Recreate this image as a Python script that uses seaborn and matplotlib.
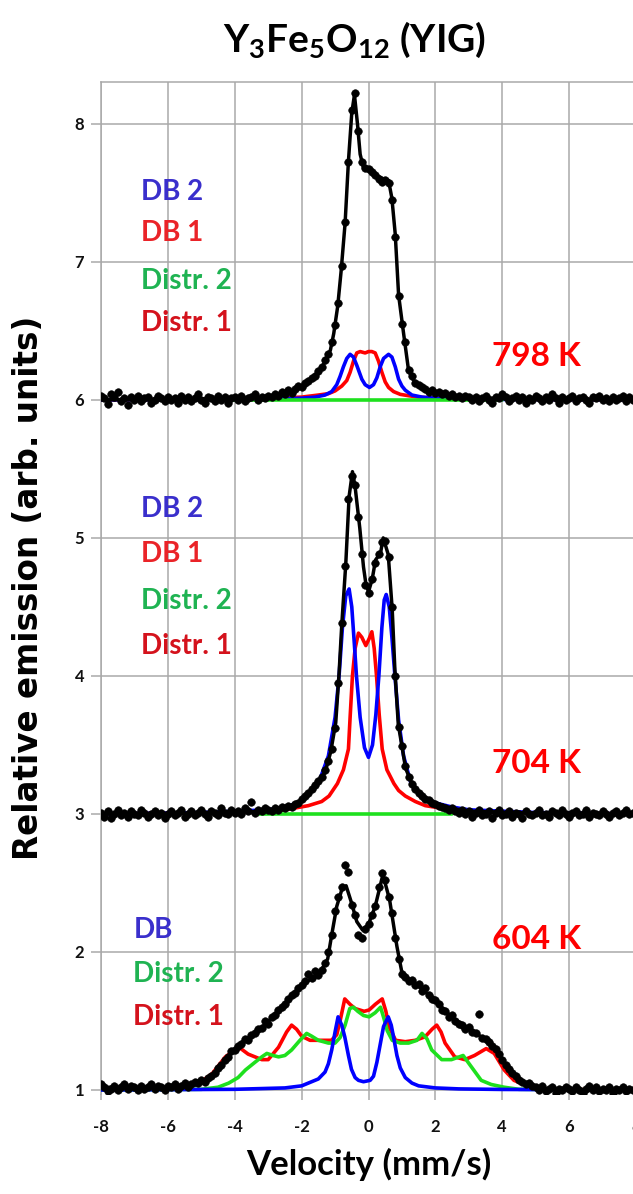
import numpy as np
import pandas as pd
import matplotlib
matplotlib.use("Agg")
import matplotlib.pyplot as plt
import seaborn as sns

# ---------------- data ----------------
vel = np.round(np.linspace(-8, 8, 161), 1)   # channel velocities (mm/s)

# measured points, 798 K (offset baseline 6)
pts_798 = [
    6.03, 6.01, 5.97, 6.04, 6.02, 6.06, 5.99, 6.01, 5.96, 6.02,
    6.00, 6.03, 5.99, 6.01, 6.02, 5.98, 6.00, 6.03, 6.01, 5.99,
    6.02, 6.00, 6.01, 5.98, 6.03, 6.00, 6.02, 5.99, 6.01, 6.04,
    6.00, 5.98, 6.02, 6.01, 5.99, 6.03, 6.00, 6.02, 5.98, 6.01,
    6.02, 6.00, 6.03, 5.99, 6.01, 6.02, 6.04, 6.00, 6.02, 6.01,
    6.03,
    6.02, 6.04, 6.03, 6.06, 6.04, 6.07, 6.05, 6.08, 6.10, 6.09,
    6.12, 6.14, 6.16, 6.17,
    6.21, 6.24, 6.29, 6.33, 6.42, 6.54, 6.70, 6.97, 7.29, 7.72,
    8.10, 8.22, 7.95, 7.72, 7.68, 7.67, 7.65, 7.63, 7.60, 7.58,
    7.59, 7.57, 7.45, 7.18, 6.75, 6.55, 6.42, 6.22, 6.17, 6.12,
    6.11, 6.09, 6.08, 6.06, 6.07, 6.05, 6.06, 6.04, 6.05, 6.03,
    6.04, 6.02, 6.03, 6.01, 6.03, 6.02,
    6.00, 6.02, 5.99, 6.01, 6.03, 6.00, 5.98, 6.02, 6.01, 6.04,
    6.02, 5.99, 6.01, 6.03, 6.00, 6.02, 5.98, 6.01, 6.00, 6.03,
    6.01, 5.99, 6.02, 6.00, 6.04, 6.01, 5.98, 6.02, 6.00, 6.01,
    6.03, 5.99, 6.01, 6.02, 6.00, 5.98, 6.02, 6.01, 6.03, 6.00,
    6.01, 5.99, 6.02, 6.00, 6.01, 6.03, 5.99, 6.02, 6.00, 6.01,
]

# measured points, 704 K (offset baseline 3)
pts_704 = [
    3.01, 2.98, 3.02, 2.97, 3.00, 3.03, 2.99, 3.01, 2.98, 3.02,
    3.00, 2.99, 3.03, 3.01, 2.98, 3.00, 3.02, 2.99, 3.01, 2.97,
    3.00, 3.02, 2.99, 3.01, 3.03, 2.98, 3.00, 3.02, 2.99, 3.01,
    3.03, 3.00, 2.98, 3.02, 3.01, 2.99, 3.04, 3.01, 3.00, 3.03,
    3.01, 3.02, 3.00, 3.04, 3.02, 3.09, 3.01, 3.03, 3.02, 3.04,
    3.03,
    3.02, 3.04, 3.03, 3.05, 3.04, 3.06, 3.05, 3.07, 3.08, 3.11,
    3.13, 3.15, 3.18, 3.21,
    3.24, 3.27, 3.32, 3.38, 3.47, 3.62, 3.95, 4.38, 4.80, 5.28,
    5.45, 5.38, 5.15, 4.88, 4.66, 4.60, 4.70, 4.82, 4.88, 4.97,
    4.98, 4.86, 4.50, 4.00, 3.63, 3.49, 3.35, 3.27, 3.22, 3.18,
    3.15, 3.13, 3.11, 3.10, 3.08, 3.07, 3.06, 3.05, 3.04, 3.03,
    3.04, 3.02, 3.01, 3.03, 3.00, 3.02,
    2.98, 3.01, 3.03, 2.99, 3.00, 3.02, 2.97, 3.01, 3.03, 2.99,
    3.00, 3.02, 2.98, 3.01, 3.00, 2.97, 3.02, 3.00, 2.99, 3.01,
    3.03, 2.99, 3.00, 2.98, 3.02, 3.01, 2.99, 3.03, 3.00, 2.98,
    3.01, 3.02, 2.99, 3.00, 3.03, 2.98, 3.01, 3.00, 2.99, 3.02,
    3.00, 2.98, 3.01, 3.02, 2.99, 3.01, 3.03, 3.00, 3.01, 3.02,
]

# measured points, 604 K (offset baseline 1)
pts_604 = [
    1.04, 1.02, 0.99, 1.01, 1.03, 1.00, 1.02, 1.04, 1.01, 1.03,
    1.02, 1.00, 1.03, 1.01, 1.02, 1.04, 1.01, 1.03, 1.02, 1.00,
    1.03, 1.02, 1.04, 1.01, 1.03, 1.05, 1.02, 1.04, 1.06, 1.05,
    1.07,
    1.06, 1.09, 1.10, 1.12, 1.16, 1.18, 1.22, 1.24, 1.28, 1.29,
    1.32, 1.33, 1.37, 1.36, 1.40, 1.41, 1.44, 1.45, 1.50, 1.48,
    1.53, 1.54, 1.58, 1.60, 1.62, 1.66, 1.69, 1.70, 1.74, 1.76,
    1.79, 1.84, 1.81, 1.86, 1.83, 1.87, 1.92, 2.00, 2.12, 2.30,
    2.40, 2.47, 2.63, 2.58, 2.34, 2.27, 2.12, 2.10, 2.17, 2.20,
    2.27, 2.33, 2.47, 2.57, 2.52, 2.40, 2.28, 2.10, 1.95, 1.84,
    1.82, 1.79, 1.80, 1.76, 1.77, 1.72, 1.74, 1.69, 1.66, 1.65,
    1.62, 1.58, 1.57, 1.53, 1.54, 1.50, 1.48, 1.47, 1.44, 1.46,
    1.42, 1.41, 1.55, 1.38, 1.37, 1.35, 1.32, 1.30, 1.26, 1.22,
    1.18, 1.15, 1.12, 1.10, 1.07, 1.06, 1.04, 1.05, 1.03,
    1.02, 1.00, 1.03, 0.99, 1.01, 1.02, 0.98, 1.01, 1.00, 1.02,
    1.01, 0.99, 1.02, 1.00, 0.98, 1.01, 1.03, 1.00, 1.02, 0.99,
    1.01, 1.00, 1.02, 0.98, 1.01, 1.00, 1.02, 0.99, 1.01, 1.00,
    1.01,
]
assert len(pts_798) == len(vel) and len(pts_704) == len(vel) and len(pts_604) == len(vel)

# ---- fitted curves, 798 K ----
fit798_v = [-8, -6, -4, -3, -2.5, -2, -1.6, -1.4, -1.14, -1.04, -0.92, -0.82, -0.7, -0.6,
            -0.5, -0.42, -0.33, -0.25, -0.15, 0, 0.15, 0.3, 0.45, 0.6, 0.7, 0.8, 0.9, 1.05,
            1.2, 1.4, 1.6, 2.0, 2.5, 3, 4, 6, 8]
fit798_y = [6.0, 6.005, 6.01, 6.02, 6.04, 6.09, 6.16, 6.23, 6.36, 6.48, 6.68, 6.93, 7.28, 7.73,
            8.08, 8.21, 8.0, 7.78, 7.68, 7.66, 7.64, 7.62, 7.6, 7.59, 7.46, 7.2, 6.76, 6.48,
            6.21, 6.12, 6.09, 6.05, 6.03, 6.02, 6.01, 6.005, 6.0]
db2_798_v = [-8, -4, -3, -2, -1.6, -1.3, -1.1, -0.95, -0.85, -0.75, -0.65, -0.55, -0.45, -0.35,
             -0.2, -0.1, 0.03, 0.15, 0.25, 0.35, 0.45, 0.6, 0.7, 0.8, 0.9, 1.0, 1.1, 1.3, 1.6,
             2, 3, 4, 8]
db2_798_y = [6.0, 6.003, 6.006, 6.012, 6.02, 6.035, 6.06, 6.11, 6.17, 6.24, 6.3, 6.33, 6.31, 6.25,
             6.15, 6.11, 6.09, 6.11, 6.16, 6.24, 6.3, 6.33, 6.31, 6.24, 6.15, 6.1, 6.07, 6.035, 6.02,
             6.012, 6.006, 6.003, 6.0]
db1_798_v = [-8, -4, -3, -2, -1.5, -1.2, -1.0, -0.8, -0.65, -0.55, -0.45, -0.35, -0.25, -0.1, 0.0,
             0.1, 0.2, 0.3, 0.4, 0.5, 0.6, 0.75, 0.95, 1.2, 1.5, 2, 3, 4, 8]
db1_798_y = [6.0, 6.005, 6.01, 6.02, 6.035, 6.045, 6.065, 6.1, 6.14, 6.2, 6.28, 6.34, 6.35, 6.34, 6.35,
             6.35, 6.34, 6.28, 6.2, 6.13, 6.09, 6.06, 6.04, 6.03, 6.02, 6.012, 6.008, 6.005, 6.0]
d2_798_v = [-4.2, 4.0]
d2_798_y = [6.0, 6.0]

# ---- fitted curves, 704 K ----
fit704_v = [-8, -5, -3, -2.5, -2.0, -1.6, -1.3, -1.13, -0.98, -0.88, -0.8, -0.68, -0.58, -0.48,
            -0.4, -0.26, -0.15, -0.08, 0.0, 0.11, 0.21, 0.36, 0.44, 0.59, 0.71, 0.79, 0.89, 1.0,
            1.11, 1.3, 1.6, 2.0, 2.5, 3, 5, 8]
fit704_y = [3.0, 3.005, 3.02, 3.04, 3.1, 3.2, 3.3, 3.45, 3.66, 4.02, 4.37, 4.81, 5.3, 5.48,
            5.37, 5.07, 4.79, 4.67, 4.61, 4.70, 4.84, 4.89, 5.0, 4.88, 4.48, 4.04, 3.65, 3.49,
            3.33, 3.22, 3.13, 3.08, 3.04, 3.02, 3.005, 3.0]
db2_704_v = [-8, -5, -3, -2.5, -2.0, -1.5, -1.2, -1.0, -0.88, -0.78, -0.68, -0.58, -0.5, -0.42,
             -0.36, -0.25, -0.12, 0.0, 0.12, 0.22, 0.31, 0.4, 0.47, 0.53, 0.62, 0.7, 0.79, 0.9,
             1.05, 1.26, 1.6, 2.0, 2.5, 3, 5, 8]
db2_704_y = [3.0, 3.01, 3.03, 3.05, 3.09, 3.22, 3.42, 3.7, 4.0, 4.35, 4.58, 4.63, 4.5, 4.22,
             4.0, 3.7, 3.48, 3.41, 3.5, 3.72, 4.0, 4.35, 4.55, 4.59, 4.5, 4.28, 4.0, 3.68,
             3.42, 3.23, 3.13, 3.08, 3.05, 3.03, 3.01, 3.0]
db1_704_v = [-8, -4, -2.5, -1.8, -1.4, -1.18, -0.93, -0.75, -0.6, -0.55, -0.48, -0.4, -0.3, -0.2,
             -0.08, 0.02, 0.1, 0.17, 0.24, 0.32, 0.41, 0.55, 0.76, 0.9, 1.1, 1.4, 1.7, 2.5, 4, 8]
db1_704_y = [3.0, 3.01, 3.03, 3.06, 3.09, 3.13, 3.22, 3.32, 3.47, 3.7, 4.0, 4.2, 4.31, 4.28,
             4.22, 4.27, 4.32, 4.2, 4.0, 3.72, 3.47, 3.32, 3.22, 3.17, 3.13, 3.09, 3.06, 3.03, 3.01, 3.0]
d2_704_v = [-3.3, 2.5]
d2_704_y = [3.0, 3.0]

# ---- fitted curves, 604 K ----
fit604_v = [-8, -6, -5.6, -5.08, -4.75, -4.42, -4.1, -3.77, -3.34, -2.9, -2.47, -2.14, -1.82, -1.5,
            -1.22, -1.11, -0.95, -0.8, -0.67, -0.5, -0.35, -0.18, 0.0, 0.2, 0.43, 0.63, 0.74, 0.85,
            1.0, 1.23, 1.66, 2.1, 2.53, 2.97, 3.4, 3.73, 3.95, 4.27, 4.7, 5.14, 6, 8]
fit604_y = [1.02, 1.02, 1.02, 1.04, 1.08, 1.17, 1.27, 1.35, 1.42, 1.52, 1.63, 1.72, 1.79, 1.83,
            1.95, 2.11, 2.33, 2.45, 2.48, 2.35, 2.22, 2.16, 2.2, 2.33, 2.56, 2.38, 2.21, 2.04,
            1.85, 1.80, 1.72, 1.62, 1.52, 1.45, 1.38, 1.31, 1.24, 1.12, 1.05, 1.01, 1.0, 1.0]
d1_604_v = [-8, -5.6, -5.0, -4.67, -4.28, -4.0, -3.82, -3.6, -3.19, -3.0, -2.69, -2.45, -2.3, -2.15,
            -2.0, -1.75, -1.5, -1.11, -0.95, -0.85, -0.71, -0.55, -0.4, -0.13, 0.02, 0.2, 0.41,
            0.52, 0.61, 0.81, 1.1, 1.4, 1.69, 1.9, 2.04, 2.17, 2.29, 2.58, 2.88, 3.17, 3.52, 3.76,
            4.06, 4.35, 4.85, 5.5, 8]
d1_604_y = [1.0, 1.02, 1.06, 1.12, 1.24, 1.29, 1.30, 1.26, 1.22, 1.22, 1.31, 1.42, 1.47, 1.44,
            1.39, 1.36, 1.36, 1.36, 1.40, 1.50, 1.66, 1.62, 1.59, 1.57, 1.58, 1.62, 1.66,
            1.57, 1.46, 1.36, 1.35, 1.36, 1.385, 1.44, 1.47, 1.42, 1.34, 1.24, 1.22, 1.25, 1.30, 1.265,
            1.145, 1.07, 1.02, 1.005, 1.0]
d2_604_v = [-8, -5, -4.5, -4.18, -3.9, -3.68, -3.4, -3.19, -3.04, -2.85, -2.69, -2.5, -2.3, -2.05,
            -1.85, -1.7, -1.5, -1.2, -1.0, -0.85, -0.7, -0.56, -0.45, -0.32, -0.15, 0.02, 0.2, 0.36,
            0.46, 0.56, 0.71, 0.95, 1.2, 1.45, 1.6, 1.75, 1.89, 2.19, 2.48, 2.83, 3.07, 3.37, 3.67,
            4.06, 4.5, 8]
d2_604_y = [1.0, 1.005, 1.02, 1.05, 1.09, 1.145, 1.2, 1.24, 1.265, 1.25, 1.24, 1.25, 1.29, 1.36,
            1.41, 1.39, 1.36, 1.34, 1.34, 1.38, 1.47, 1.59, 1.60, 1.57, 1.54, 1.53, 1.56, 1.60,
            1.52, 1.43, 1.36, 1.34, 1.34, 1.36, 1.41, 1.37, 1.29, 1.22, 1.22, 1.25, 1.17, 1.07, 1.04,
            1.02, 1.005, 1.0]
db_604_v = [-8, -4, -2.5, -2.0, -1.5, -1.3, -1.2, -1.1, -1.0, -0.91, -0.8, -0.71, -0.6, -0.51, -0.4,
            -0.3, -0.15, -0.05, 0.05, 0.15, 0.25, 0.35, 0.45, 0.59, 0.68, 0.76, 0.85, 0.95, 1.1,
            1.3, 1.5, 2.0, 2.7, 4, 8]
db_604_y = [1.0, 1.005, 1.015, 1.03, 1.08, 1.13, 1.19, 1.29, 1.42, 1.53, 1.47, 1.385, 1.25, 1.15,
            1.09, 1.07, 1.06, 1.065, 1.07, 1.1, 1.2, 1.33, 1.46, 1.53, 1.47, 1.37, 1.25, 1.16, 1.09,
            1.05, 1.03, 1.015, 1.008, 1.004, 1.0]

temps = ["798 K", "704 K", "604 K"]
labels_798 = ["DB 2", "DB 1", "Distr. 2", "Distr. 1"]
labels_704 = ["DB 2", "DB 1", "Distr. 2", "Distr. 1"]
labels_604 = ["DB", "Distr. 2", "Distr. 1"]
x_ticks = [-8, -6, -4, -2, 0, 2, 4, 6, 8]
y_ticks = [1, 2, 3, 4, 5, 6, 7, 8]

# ---------------- styling ----------------
sns.set_theme(style="white")
plt.rcParams["font.family"] = ["Lato", "DejaVu Sans"]
plt.rcParams["mathtext.fontset"] = "custom"
plt.rcParams["mathtext.rm"] = "Lato"
plt.rcParams["mathtext.bf"] = "Lato:bold"
plt.rcParams["mathtext.it"] = "Lato:italic"

C_BLUE, C_RED, C_GREEN = "#0000ff", "#ff0000", "#1ee01e"
T_BLUE, T_RED1, T_GREEN, T_RED2 = "#3a2fcc", "#ea2328", "#1fb352", "#d4121c"
GRID = "#a9a9a9"

fig = plt.figure(figsize=(6.33, 11.94), dpi=100)
ax = fig.add_axes([101 / 633, 100 / 1194, 535 / 633, 1012 / 1194])

LW = 2.6


def line(v, y, color, z, lw=LW):
    df = pd.DataFrame({"v": v, "y": y})
    sns.lineplot(data=df, x="v", y="y", color=color, lw=lw, ax=ax, zorder=z,
                 estimator=None, sort=False, legend=False)


def points(y):
    df = pd.DataFrame({"v": vel, "y": y})
    sns.scatterplot(data=df, x="v", y="y", color="black", s=30, edgecolor="black",
                    linewidth=0.4, ax=ax, zorder=10, legend=False)


# 798 K
line(db1_798_v, db1_798_y, C_RED, 3)
line(db2_798_v, db2_798_y, C_BLUE, 4)
line(d2_798_v, d2_798_y, C_GREEN, 5)
points(pts_798)
line(fit798_v, fit798_y, "black", 11, lw=2.5)

# 704 K
line(db1_704_v, db1_704_y, C_RED, 3)
line(db2_704_v, db2_704_y, C_BLUE, 4)
line(d2_704_v, d2_704_y, C_GREEN, 5)
points(pts_704)
line(fit704_v, fit704_y, "black", 11, lw=2.5)

# 604 K
line(d1_604_v, d1_604_y, C_RED, 3)
line(d2_604_v, d2_604_y, C_GREEN, 4)
line(db_604_v, db_604_y, C_BLUE, 5)
points(pts_604)
line(fit604_v, fit604_y, "black", 11, lw=2.5)

# ---------------- axes ----------------
ax.set_xlim(-8, 8)
ax.set_ylim(0.971, 8.303)
ax.set_xticks(x_ticks)
ax.set_yticks(y_ticks)
ax.set_xticklabels([str(t) for t in x_ticks])
ax.set_yticklabels([str(t) for t in y_ticks])
ax.grid(True, color=GRID, linewidth=1.1)
ax.set_axisbelow(True)
for s in ["left", "top", "right"]:
    ax.spines[s].set_visible(True)
    ax.spines[s].set_color(GRID)
    ax.spines[s].set_linewidth(1.1)
ax.spines["bottom"].set_visible(False)
ax.tick_params(axis="y", length=7, width=1.1, color=GRID, pad=5, labelsize=12,
               left=True, direction="out")
ax.tick_params(axis="x", length=4, width=1.1, color=GRID, pad=14, labelsize=12,
               bottom=True, direction="out")
for lab in ax.get_xticklabels() + ax.get_yticklabels():
    lab.set_fontweight("bold")
    lab.set_color("#111111")

ax.set_xlabel("Velocity (mm/s)", fontsize=25, fontweight="bold", color="black")
ax.xaxis.set_label_coords(0.501, -0.070)
ax.xaxis.label.set_va("center")
ax.set_ylabel("Relative emission (arb. units)", fontsize=23.5, fontweight="bold",
              color="black", family="DejaVu Sans")
ax.yaxis.set_label_coords(-0.136, 0.50)
ax.yaxis.label.set_va("center")

# title
fig.text(355 / 633, 1 - 52 / 1194, r"$\mathbf{Y_3Fe_5O_{12}}$ (YIG)", ha="center",
         va="baseline", fontsize=28, fontweight="bold", color="black")

# component labels
lab_kw = dict(fontsize=20, fontweight="bold", ha="left", va="baseline", zorder=20)
for txt, yy, col in zip(labels_798, [7.45, 7.15, 6.80, 6.50], [T_BLUE, T_RED1, T_GREEN, T_RED2]):
    ax.text(-6.8, yy, txt, color=col, **lab_kw)
for txt, yy, col in zip(labels_704, [5.153, 4.828, 4.488, 4.156], [T_BLUE, T_RED1, T_GREEN, T_RED2]):
    ax.text(-6.8, yy, txt, color=col, **lab_kw)
for txt, yy, col in zip(labels_604, [2.104, 1.779, 1.468], [T_BLUE, T_GREEN, T_RED2]):
    ax.text(-7.03, yy, txt, color=col, **lab_kw)

# temperatures
for txt, yy in zip(temps, [6.246, 3.296, 2.02]):
    ax.text(3.68, yy, txt, color="#ff0000", fontsize=24, fontweight="bold",
            ha="left", va="baseline", zorder=20)

fig.savefig("out.png", dpi=100)
